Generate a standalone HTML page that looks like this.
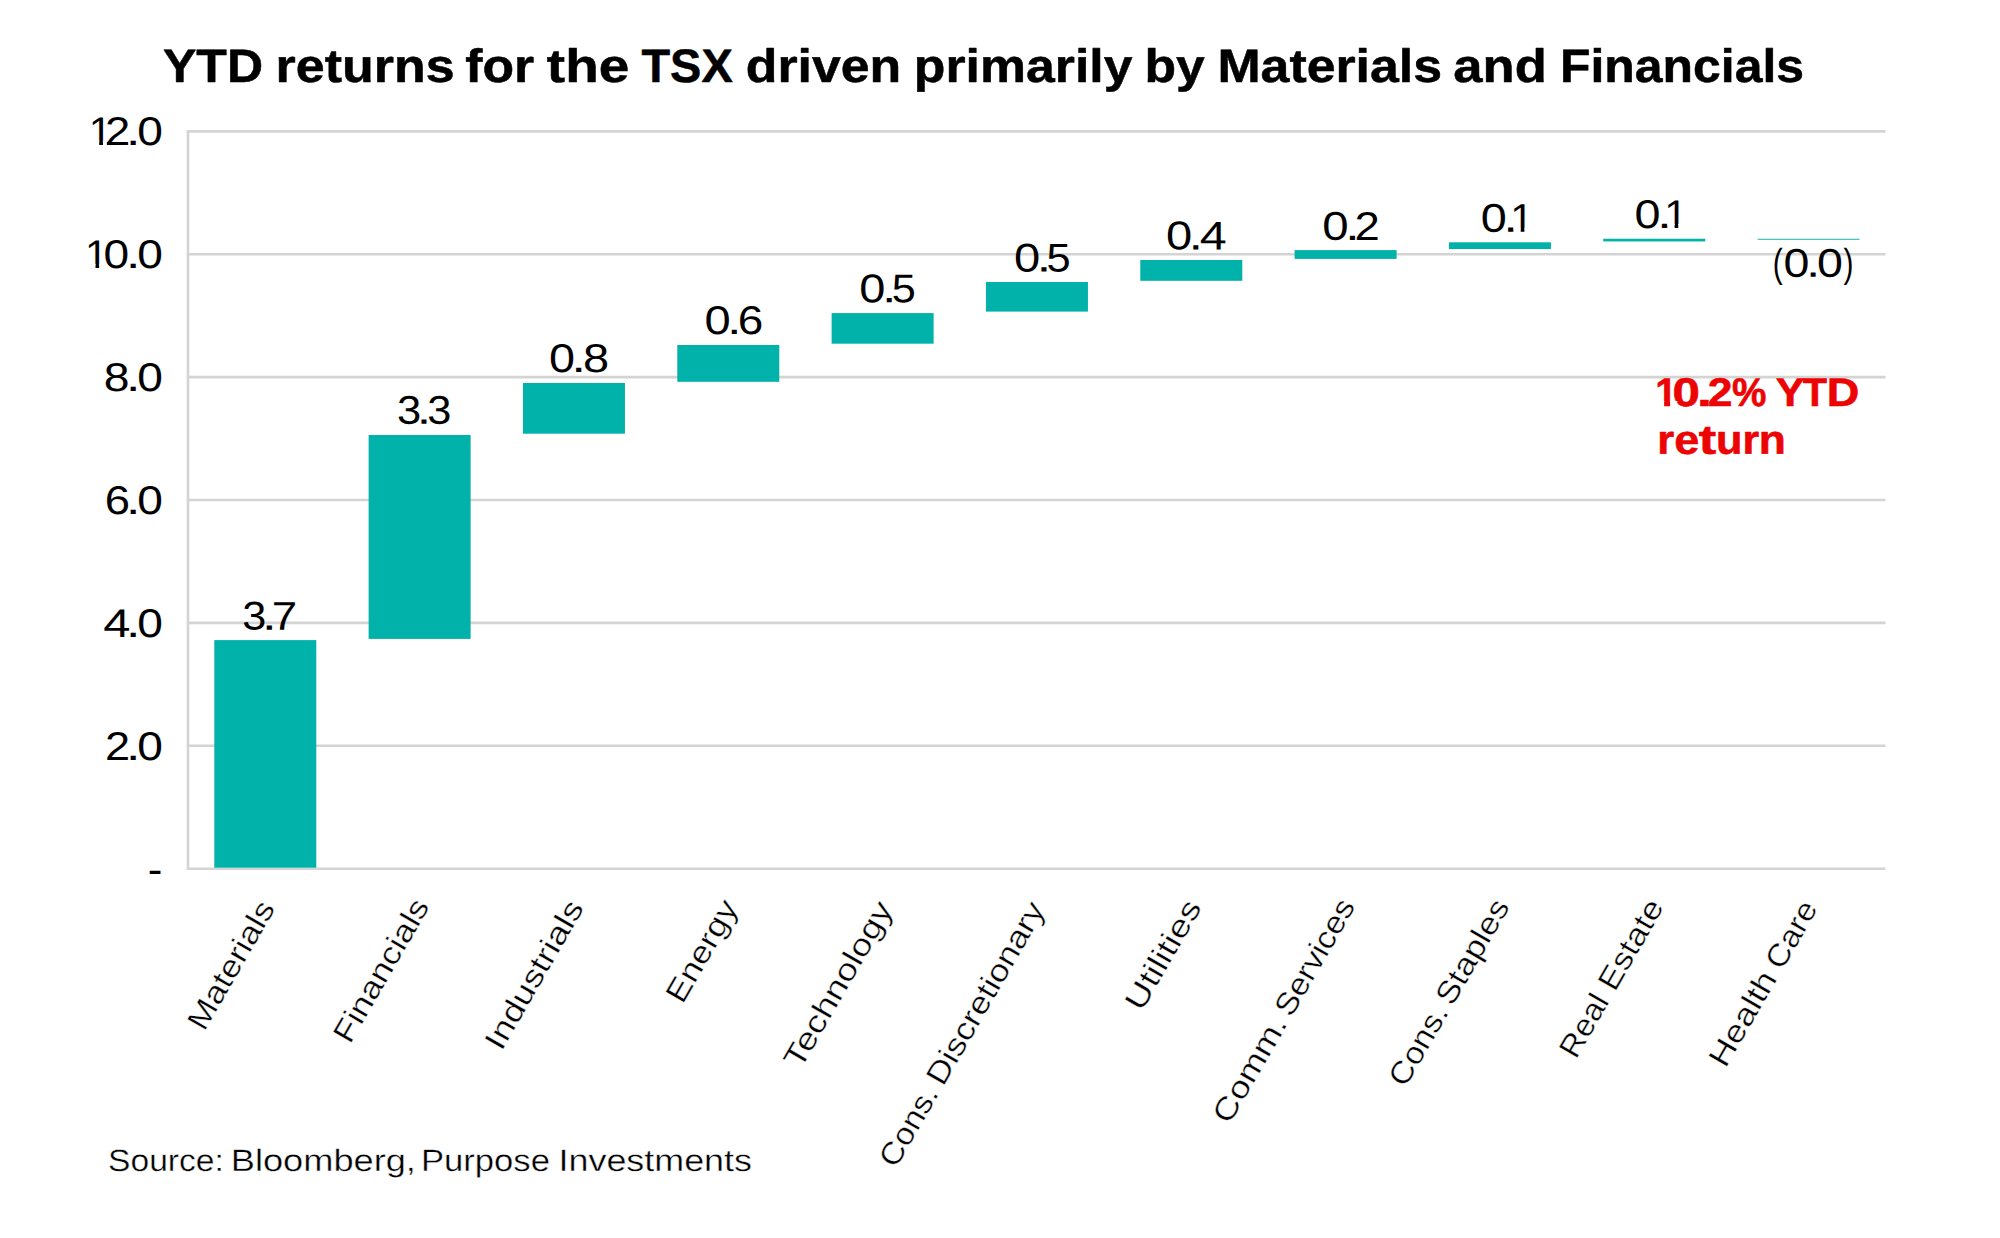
<!DOCTYPE html>
<html lang="en">
<head>
<meta charset="utf-8">
<title>YTD returns for the TSX driven primarily by Materials and Financials</title>
<style>
html,body{margin:0;padding:0;background:#fff;}
body{width:2000px;height:1238px;overflow:hidden;}
svg{display:block;font-family:'Liberation Sans', Arial, sans-serif;}
svg text{text-rendering:geometricPrecision;}
</style>
</head>
<body>
<svg width="2000" height="1238" viewBox="0 0 2000 1238">
<rect x="0" y="0" width="2000" height="1238" fill="#ffffff"/>
<defs><clipPath id="k-y0"><path clip-rule="evenodd" d="M0 0H2000V1238H0Z M90.92 141H99.22V146.35H90.92Z M102.9 141H106.85V146.35H102.9Z"/></clipPath><clipPath id="k-y1"><path clip-rule="evenodd" d="M0 0H2000V1238H0Z M87.27 264H95.5V269.37H87.27Z M99.15 264H107.06V269.37H99.15Z"/></clipPath><clipPath id="k-d8"><path clip-rule="evenodd" d="M0 0H2000V1238H0Z M1513.5 228H1520.72V233.25H1513.5Z M1524.4 228H1532.38V233.25H1524.4Z"/></clipPath><clipPath id="k-d9"><path clip-rule="evenodd" d="M0 0H2000V1238H0Z M1667.4 224H1674.59V229.5H1667.4Z M1678.25 224H1686.19V229.5H1678.25Z"/></clipPath><clipPath id="k-red"><path clip-rule="evenodd" d="M0 0H2000V1238H0Z M1656.47 401H1664.13V407.8H1656.47Z M1670.1 401H1677.27V407.8H1670.1Z"/></clipPath></defs>
<g id="gridlines">
<line x1="186.80" y1="131.40" x2="1885.50" y2="131.40" stroke="#d4d4d4" stroke-width="2.6"/>
<line x1="186.80" y1="254.28" x2="1885.50" y2="254.28" stroke="#d4d4d4" stroke-width="2.6"/>
<line x1="186.80" y1="377.16" x2="1885.50" y2="377.16" stroke="#d4d4d4" stroke-width="2.6"/>
<line x1="186.80" y1="500.04" x2="1885.50" y2="500.04" stroke="#d4d4d4" stroke-width="2.6"/>
<line x1="186.80" y1="622.92" x2="1885.50" y2="622.92" stroke="#d4d4d4" stroke-width="2.6"/>
<line x1="186.80" y1="745.80" x2="1885.50" y2="745.80" stroke="#d4d4d4" stroke-width="2.6"/>
<line x1="186.80" y1="868.68" x2="1885.50" y2="868.68" stroke="#d4d4d4" stroke-width="2.6"/>
<line x1="188.00" y1="130.10" x2="188.00" y2="869.98" stroke="#d4d4d4" stroke-width="2.6"/>
</g>
<g id="bars">
<rect x="214.30" y="640.10" width="102.00" height="227.60" fill="#00b2a9"/>
<rect x="368.63" y="435.00" width="102.00" height="203.90" fill="#00b2a9"/>
<rect x="522.96" y="383.00" width="102.00" height="50.70" fill="#00b2a9"/>
<rect x="677.29" y="345.00" width="102.00" height="36.80" fill="#00b2a9"/>
<rect x="831.62" y="313.10" width="102.00" height="30.60" fill="#00b2a9"/>
<rect x="985.95" y="282.00" width="102.00" height="29.60" fill="#00b2a9"/>
<rect x="1140.28" y="260.00" width="102.00" height="20.80" fill="#00b2a9"/>
<rect x="1294.61" y="250.10" width="102.00" height="8.80" fill="#00b2a9"/>
<rect x="1448.94" y="242.30" width="102.00" height="6.70" fill="#00b2a9"/>
<rect x="1603.27" y="238.75" width="102.00" height="2.70" fill="#00b2a9"/>
<rect x="1757.60" y="238.80" width="102.00" height="0.92" fill="#00b2a9"/>
</g>
<g id="chart-title">
<text class="title" font-size="46.8" stroke="#000000" stroke-width="0.5" stroke-linejoin="round" font-weight="bold"><tspan x="162.98" y="82.00" textLength="100.06" lengthAdjust="spacingAndGlyphs">YTD</tspan> <tspan x="275.62" y="82.00" textLength="179.09" lengthAdjust="spacingAndGlyphs">returns</tspan> <tspan x="465.22" y="82.00" textLength="68.99" lengthAdjust="spacingAndGlyphs">for</tspan> <tspan x="546.86" y="82.00" textLength="82.39" lengthAdjust="spacingAndGlyphs">the</tspan> <tspan x="641.45" y="82.00" textLength="91.32" lengthAdjust="spacingAndGlyphs">TSX</tspan> <tspan x="745.73" y="82.00" textLength="155.57" lengthAdjust="spacingAndGlyphs">driven</tspan> <tspan x="913.83" y="82.00" textLength="218.60" lengthAdjust="spacingAndGlyphs">primarily</tspan> <tspan x="1144.44" y="82.00" textLength="60.33" lengthAdjust="spacingAndGlyphs">by</tspan> <tspan x="1217.45" y="82.00" textLength="224.59" lengthAdjust="spacingAndGlyphs">Materials</tspan> <tspan x="1453.36" y="82.00" textLength="93.48" lengthAdjust="spacingAndGlyphs">and</tspan> <tspan x="1559.98" y="82.00" textLength="244.17" lengthAdjust="spacingAndGlyphs">Financials</tspan></text>
</g>
<g id="y-axis-labels">
<text class="y0" font-size="40" clip-path="url(#k-y0)"><tspan x="88.74" y="144.85" textLength="23.17" lengthAdjust="spacingAndGlyphs">1</tspan><tspan x="104.98" y="144.85" textLength="25.30" lengthAdjust="spacingAndGlyphs">2</tspan><tspan x="125.75" y="144.85" textLength="14.83" lengthAdjust="spacingAndGlyphs">.</tspan><tspan x="137.17" y="144.85" textLength="25.66" lengthAdjust="spacingAndGlyphs">0</tspan></text>
<text class="y1" font-size="40" clip-path="url(#k-y1)"><tspan x="85.13" y="267.87" textLength="22.94" lengthAdjust="spacingAndGlyphs">1</tspan><tspan x="103.42" y="267.87" textLength="25.66" lengthAdjust="spacingAndGlyphs">0</tspan><tspan x="125.75" y="267.87" textLength="14.83" lengthAdjust="spacingAndGlyphs">.</tspan><tspan x="137.17" y="267.87" textLength="25.66" lengthAdjust="spacingAndGlyphs">0</tspan></text>
<text class="y2" font-size="40"><tspan x="103.87" y="390.89" textLength="25.75" lengthAdjust="spacingAndGlyphs">8</tspan><tspan x="125.75" y="390.89" textLength="14.83" lengthAdjust="spacingAndGlyphs">.</tspan><tspan x="137.17" y="390.89" textLength="25.66" lengthAdjust="spacingAndGlyphs">0</tspan></text>
<text class="y3" font-size="40"><tspan x="104.73" y="513.91" textLength="25.26" lengthAdjust="spacingAndGlyphs">6</tspan><tspan x="125.75" y="513.91" textLength="14.83" lengthAdjust="spacingAndGlyphs">.</tspan><tspan x="137.17" y="513.91" textLength="25.66" lengthAdjust="spacingAndGlyphs">0</tspan></text>
<text class="y4" font-size="40"><tspan x="103.28" y="636.93" textLength="27.15" lengthAdjust="spacingAndGlyphs">4</tspan><tspan x="125.75" y="636.93" textLength="14.83" lengthAdjust="spacingAndGlyphs">.</tspan><tspan x="137.17" y="636.93" textLength="25.66" lengthAdjust="spacingAndGlyphs">0</tspan></text>
<text class="y5" font-size="40"><tspan x="105.14" y="759.95" textLength="25.12" lengthAdjust="spacingAndGlyphs">2</tspan><tspan x="125.75" y="759.95" textLength="14.83" lengthAdjust="spacingAndGlyphs">.</tspan><tspan x="137.17" y="759.95" textLength="25.66" lengthAdjust="spacingAndGlyphs">0</tspan></text>
<text x="147.88" y="882.58" textLength="14.63" lengthAdjust="spacingAndGlyphs" font-size="40">-</text>
</g>
<g id="data-labels">
<text class="d0" font-size="40" transform="rotate(0.05 268.7 629.6)"><tspan x="242.38" y="629.65" textLength="24.01" lengthAdjust="spacingAndGlyphs">3</tspan><tspan x="261.80" y="629.65" textLength="15.13" lengthAdjust="spacingAndGlyphs">.</tspan><tspan x="271.87" y="629.65" textLength="25.42" lengthAdjust="spacingAndGlyphs">7</tspan></text>
<text class="d1" font-size="40" transform="rotate(0.05 423.7 423.7)"><tspan x="397.12" y="423.70" textLength="24.18" lengthAdjust="spacingAndGlyphs">3</tspan><tspan x="416.80" y="423.70" textLength="14.39" lengthAdjust="spacingAndGlyphs">.</tspan><tspan x="427.27" y="423.70" textLength="24.12" lengthAdjust="spacingAndGlyphs">3</tspan></text>
<text class="d2" font-size="40" transform="rotate(0.05 577.7 372.1)"><tspan x="549.00" y="372.10" textLength="26.01" lengthAdjust="spacingAndGlyphs">0</tspan><tspan x="571.25" y="372.10" textLength="14.83" lengthAdjust="spacingAndGlyphs">.</tspan><tspan x="582.95" y="372.10" textLength="26.11" lengthAdjust="spacingAndGlyphs">8</tspan></text>
<text class="d3" font-size="40" transform="rotate(0.05 733.1 334.1)"><tspan x="704.49" y="334.10" textLength="26.18" lengthAdjust="spacingAndGlyphs">0</tspan><tspan x="727.10" y="334.10" textLength="14.54" lengthAdjust="spacingAndGlyphs">.</tspan><tspan x="737.70" y="334.10" textLength="25.56" lengthAdjust="spacingAndGlyphs">6</tspan></text>
<text class="d4" font-size="40" transform="rotate(0.05 887.7 302.2)"><tspan x="859.24" y="302.25" textLength="26.12" lengthAdjust="spacingAndGlyphs">0</tspan><tspan x="881.90" y="302.25" textLength="14.39" lengthAdjust="spacingAndGlyphs">.</tspan><tspan x="891.86" y="302.25" textLength="24.03" lengthAdjust="spacingAndGlyphs">5</tspan></text>
<text class="d5" font-size="40" transform="rotate(0.05 1042.3 271.5)"><tspan x="1013.99" y="271.50" textLength="26.18" lengthAdjust="spacingAndGlyphs">0</tspan><tspan x="1036.40" y="271.50" textLength="14.83" lengthAdjust="spacingAndGlyphs">.</tspan><tspan x="1046.50" y="271.50" textLength="24.15" lengthAdjust="spacingAndGlyphs">5</tspan></text>
<text class="d6" font-size="40" transform="rotate(0.05 1194.8 249.4)"><tspan x="1165.99" y="249.40" textLength="26.18" lengthAdjust="spacingAndGlyphs">0</tspan><tspan x="1188.60" y="249.40" textLength="14.54" lengthAdjust="spacingAndGlyphs">.</tspan><tspan x="1199.79" y="249.40" textLength="26.98" lengthAdjust="spacingAndGlyphs">4</tspan></text>
<text class="d7" font-size="40" transform="rotate(0.05 1350.6 239.9)"><tspan x="1322.32" y="239.90" textLength="26.35" lengthAdjust="spacingAndGlyphs">0</tspan><tspan x="1345.00" y="239.90" textLength="14.83" lengthAdjust="spacingAndGlyphs">.</tspan><tspan x="1354.48" y="239.90" textLength="25.30" lengthAdjust="spacingAndGlyphs">2</tspan></text>
<text class="d8" font-size="40" transform="rotate(0.05 1508.1 231.8)" clip-path="url(#k-d8)"><tspan x="1480.75" y="231.75" textLength="26.01" lengthAdjust="spacingAndGlyphs">0</tspan><tspan x="1503.20" y="231.75" textLength="14.68" lengthAdjust="spacingAndGlyphs">.</tspan><tspan x="1510.24" y="231.75" textLength="23.17" lengthAdjust="spacingAndGlyphs">1</tspan></text>
<text class="d9" font-size="40" transform="rotate(0.05 1661.9 228.0)" clip-path="url(#k-d9)"><tspan x="1634.50" y="228.00" textLength="26.01" lengthAdjust="spacingAndGlyphs">0</tspan><tspan x="1657.00" y="228.00" textLength="14.83" lengthAdjust="spacingAndGlyphs">.</tspan><tspan x="1664.16" y="228.00" textLength="23.05" lengthAdjust="spacingAndGlyphs">1</tspan></text>
<text class="d10" font-size="40" transform="rotate(0.05 1814.6 276.8)"><tspan x="1772.69" y="276.80" textLength="9.95" lengthAdjust="spacingAndGlyphs">(</tspan><tspan x="1783.45" y="276.80" textLength="25.89" lengthAdjust="spacingAndGlyphs">0</tspan><tspan x="1806.00" y="276.80" textLength="14.24" lengthAdjust="spacingAndGlyphs">.</tspan><tspan x="1817.05" y="276.80" textLength="25.89" lengthAdjust="spacingAndGlyphs">0</tspan><tspan x="1843.57" y="276.80" textLength="9.95" lengthAdjust="spacingAndGlyphs">)</tspan></text>
</g>
<g id="annotation">
<text class="red" font-size="40" stroke="#ec0303" stroke-width="0.6" stroke-linejoin="round" font-weight="bold" fill="#ec0303" transform="rotate(0.05 1732.7 453.8)" clip-path="url(#k-red)"><tspan x="1655.31" y="406.00" textLength="21.75" lengthAdjust="spacingAndGlyphs">1</tspan><tspan x="1672.45" y="406.00" textLength="27.40" lengthAdjust="spacingAndGlyphs">0</tspan><tspan x="1696.90" y="406.00" textLength="14.97" lengthAdjust="spacingAndGlyphs">.</tspan><tspan x="1707.73" y="406.00" textLength="24.74" lengthAdjust="spacingAndGlyphs">2</tspan><tspan x="1732.03" y="406.00" textLength="34.41" lengthAdjust="spacingAndGlyphs">%</tspan> <tspan x="1775.79" y="406.00" textLength="28.75" lengthAdjust="spacingAndGlyphs">Y</tspan><tspan x="1802.70" y="406.00" textLength="24.33" lengthAdjust="spacingAndGlyphs">T</tspan><tspan x="1826.70" y="406.00" textLength="32.55" lengthAdjust="spacingAndGlyphs">D</tspan> <tspan x="1657.36" y="453.75" textLength="16.95" lengthAdjust="spacingAndGlyphs" font-size="41">r</tspan><tspan x="1674.16" y="453.75" textLength="24.98" lengthAdjust="spacingAndGlyphs" font-size="41">e</tspan><tspan x="1698.76" y="453.75" textLength="17.46" lengthAdjust="spacingAndGlyphs" font-size="41">t</tspan><tspan x="1716.06" y="453.75" textLength="26.44" lengthAdjust="spacingAndGlyphs" font-size="41">u</tspan><tspan x="1742.53" y="453.75" textLength="16.67" lengthAdjust="spacingAndGlyphs" font-size="41">r</tspan><tspan x="1758.73" y="453.75" textLength="27.08" lengthAdjust="spacingAndGlyphs" font-size="41">n</tspan></text>
</g>
<g id="source-note">
<text class="src" font-size="30.8" stroke="#fff" stroke-width="0.36"><tspan x="108.06" y="1171.20" textLength="115.79" lengthAdjust="spacingAndGlyphs">Source:</tspan> <tspan x="230.81" y="1171.20" textLength="185.12" lengthAdjust="spacingAndGlyphs">Bloomberg,</tspan> <tspan x="420.99" y="1171.20" textLength="128.91" lengthAdjust="spacingAndGlyphs">Purpose</tspan> <tspan x="558.55" y="1171.20" textLength="193.40" lengthAdjust="spacingAndGlyphs">Investments</tspan></text>
</g>
<g id="x-axis-labels">
<text x="275.90" y="908.15" textLength="143.39" lengthAdjust="spacingAndGlyphs" font-size="30.8" stroke="#fff" stroke-width="0.36" text-anchor="end" transform="rotate(-60 275.90 908.15)">Materials</text>
<text x="430.25" y="906.08" textLength="160.30" lengthAdjust="spacingAndGlyphs" font-size="30.8" stroke="#fff" stroke-width="0.36" text-anchor="end" transform="rotate(-60 430.25 906.08)">Financials</text>
<text x="584.72" y="907.58" textLength="166.63" lengthAdjust="spacingAndGlyphs" font-size="30.8" stroke="#fff" stroke-width="0.36" text-anchor="end" transform="rotate(-60 584.72 907.58)">Industrials</text>
<text x="738.92" y="907.40" textLength="112.75" lengthAdjust="spacingAndGlyphs" font-size="30.8" stroke="#fff" stroke-width="0.36" text-anchor="end" transform="rotate(-60 738.92 907.40)">Energy</text>
<text x="893.60" y="908.80" textLength="186.34" lengthAdjust="spacingAndGlyphs" font-size="30.8" stroke="#fff" stroke-width="0.36" text-anchor="end" transform="rotate(-60 893.60 908.80)">Technology</text>
<text class="x5" font-size="30.8" stroke="#fff" stroke-width="0.36" transform="rotate(-60 1045.90 909.00)"><tspan x="745.50" y="909.00" textLength="87.58" lengthAdjust="spacingAndGlyphs">Cons.</tspan> <tspan x="840.08" y="909.00" textLength="205.63" lengthAdjust="spacingAndGlyphs">Discretionary</tspan></text>
<text x="1202.40" y="907.20" textLength="121.52" lengthAdjust="spacingAndGlyphs" font-size="30.8" stroke="#fff" stroke-width="0.36" text-anchor="end" transform="rotate(-60 1202.40 907.20)">Utilities</text>
<text class="x7" font-size="30.8" stroke="#fff" stroke-width="0.36" transform="rotate(-60 1356.00 906.08)"><tspan x="1102.76" y="906.08" textLength="117.62" lengthAdjust="spacingAndGlyphs">Comm.</tspan> <tspan x="1226.43" y="906.08" textLength="129.57" lengthAdjust="spacingAndGlyphs">Services</tspan></text>
<text class="x8" font-size="30.8" stroke="#fff" stroke-width="0.36" transform="rotate(-60 1510.35 906.55)"><tspan x="1300.32" y="906.55" textLength="88.00" lengthAdjust="spacingAndGlyphs">Cons.</tspan> <tspan x="1394.33" y="906.55" textLength="116.06" lengthAdjust="spacingAndGlyphs">Staples</tspan></text>
<text class="x9" font-size="30.8" stroke="#fff" stroke-width="0.36" transform="rotate(-60 1664.52 906.75)"><tspan x="1487.57" y="906.75" textLength="67.72" lengthAdjust="spacingAndGlyphs">Real</tspan> <tspan x="1565.18" y="906.75" textLength="99.44" lengthAdjust="spacingAndGlyphs">Estate</tspan></text>
<text class="x10" font-size="30.8" stroke="#fff" stroke-width="0.36" transform="rotate(-60 1818.48 908.00)"><tspan x="1632.56" y="908.00" textLength="104.55" lengthAdjust="spacingAndGlyphs">Health</tspan> <tspan x="1745.56" y="908.00" textLength="72.85" lengthAdjust="spacingAndGlyphs">Care</tspan></text>
</g>
</svg>
</body>
</html>
